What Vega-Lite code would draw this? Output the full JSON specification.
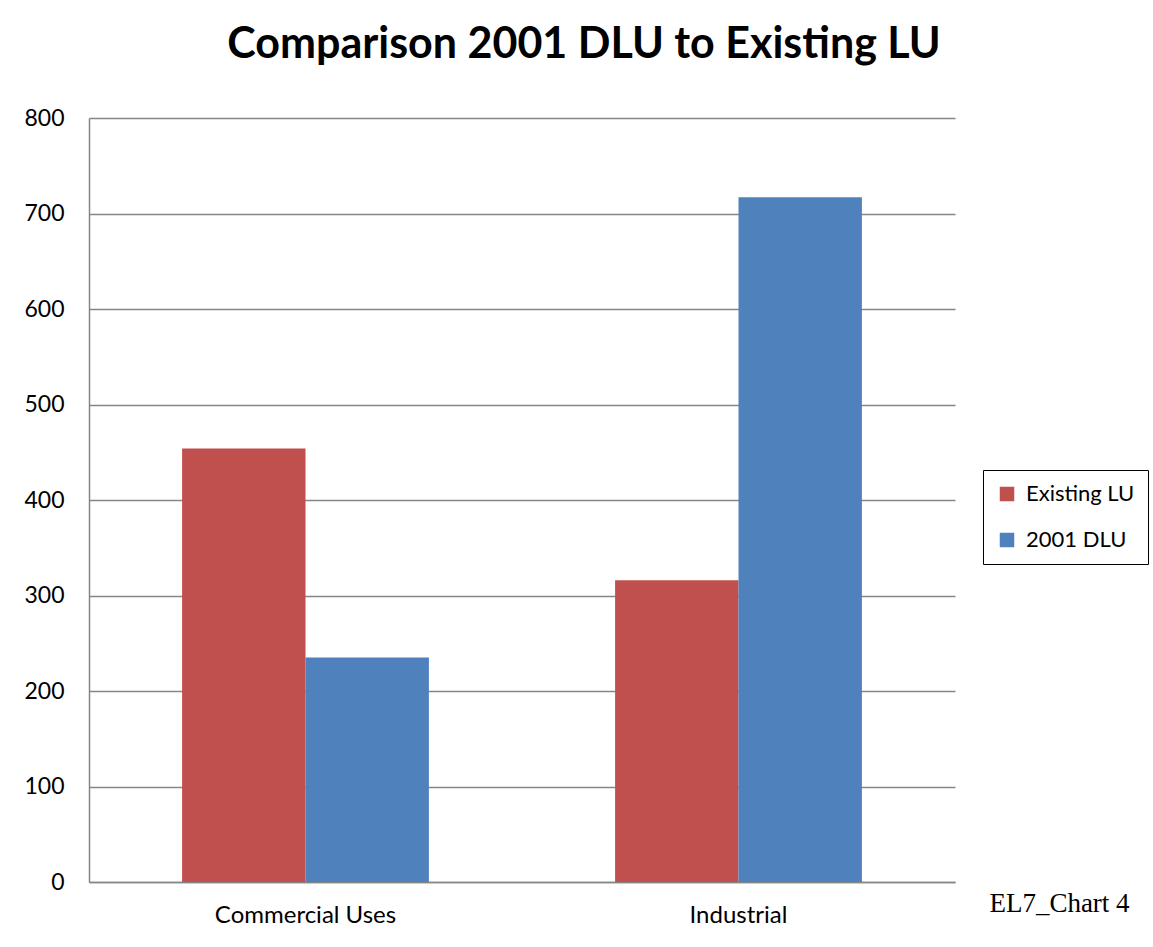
{
  "$schema": "https://vega.github.io/schema/vega-lite/v6.json",
  "width": 866,
  "height": 764,
  "autosize": {"type": "none"},
  "padding": {"left": 89, "top": 118, "right": 198, "bottom": 65},
  "background": "white",
  "title": {
    "text": "Comparison 2001 DLU to Existing LU",
    "font": "Lato",
    "fontSize": 43,
    "fontWeight": "bold",
    "color": "black",
    "anchor": "middle",
    "frame": "group",
    "baseline": "alphabetic",
    "offset": 6,
    "dx": 62
  },
  "data": {
    "values": [
      {"category": "Commercial Uses", "series": "Existing LU", "value": 454},
      {"category": "Commercial Uses", "series": "2001 DLU", "value": 235},
      {"category": "Industrial", "series": "Existing LU", "value": 316},
      {"category": "Industrial", "series": "2001 DLU", "value": 717}
    ]
  },
  "mark": {"type": "bar"},
  "encoding": {
    "x": {
      "field": "category",
      "type": "nominal",
      "sort": ["Commercial Uses", "Industrial"],
      "scale": {"paddingInner": 0.43, "paddingOuter": 0.215},
      "axis": {
        "title": "EL7_Chart 4",
        "titleFont": "Liberation Serif",
        "titleFontSize": 27,
        "titleFontWeight": "normal",
        "titleColor": "black",
        "titleX": 970,
        "titleY": 21,
        "titleAlign": "center",
        "titleBaseline": "middle",
        "labelAngle": 0,
        "labelFont": "Lato",
        "labelFontSize": 24,
        "labelLimit": 400,
        "labelColor": "black",
        "labelPadding": 21,
        "ticks": false,
        "domainColor": "#868686",
        "domainWidth": 1.5,
        "grid": false
      }
    },
    "xOffset": {
      "field": "series",
      "type": "nominal",
      "sort": ["Existing LU", "2001 DLU"],
      "scale": {"paddingInner": 0, "paddingOuter": 0}
    },
    "y": {
      "field": "value",
      "type": "quantitative",
      "scale": {"domain": [0, 800], "nice": false},
      "axis": {
        "title": null,
        "values": [0, 100, 200, 300, 400, 500, 600, 700, 800],
        "labelFont": "Lato",
        "labelFontSize": 23,
        "labelColor": "black",
        "labelPadding": 25,
        "ticks": false,
        "domainColor": "#868686",
        "domainWidth": 1.5,
        "gridColor": "#868686",
        "gridWidth": 1.5,
        "gridOpacity": 1
      }
    },
    "color": {
      "field": "series",
      "type": "nominal",
      "sort": ["Existing LU", "2001 DLU"],
      "scale": {"domain": ["Existing LU", "2001 DLU"], "range": ["#C0504D", "#4F81BD"]},
      "legend": {
        "title": null,
        "orient": "none",
        "legendX": 894,
        "legendY": 352,
        "padding": 13,
        "strokeColor": "black",
        "fillColor": "white",
        "symbolType": "square",
        "symbolSize": 210,
        "symbolStrokeWidth": 0,
        "symbolOpacity": 1,
        "labelFont": "Lato",
        "labelFontSize": 22,
        "labelLimit": 300,
        "labelColor": "black",
        "labelOffset": 8,
        "rowPadding": 24
      }
    }
  },
  "config": {
    "view": {"stroke": null}
  }
}
